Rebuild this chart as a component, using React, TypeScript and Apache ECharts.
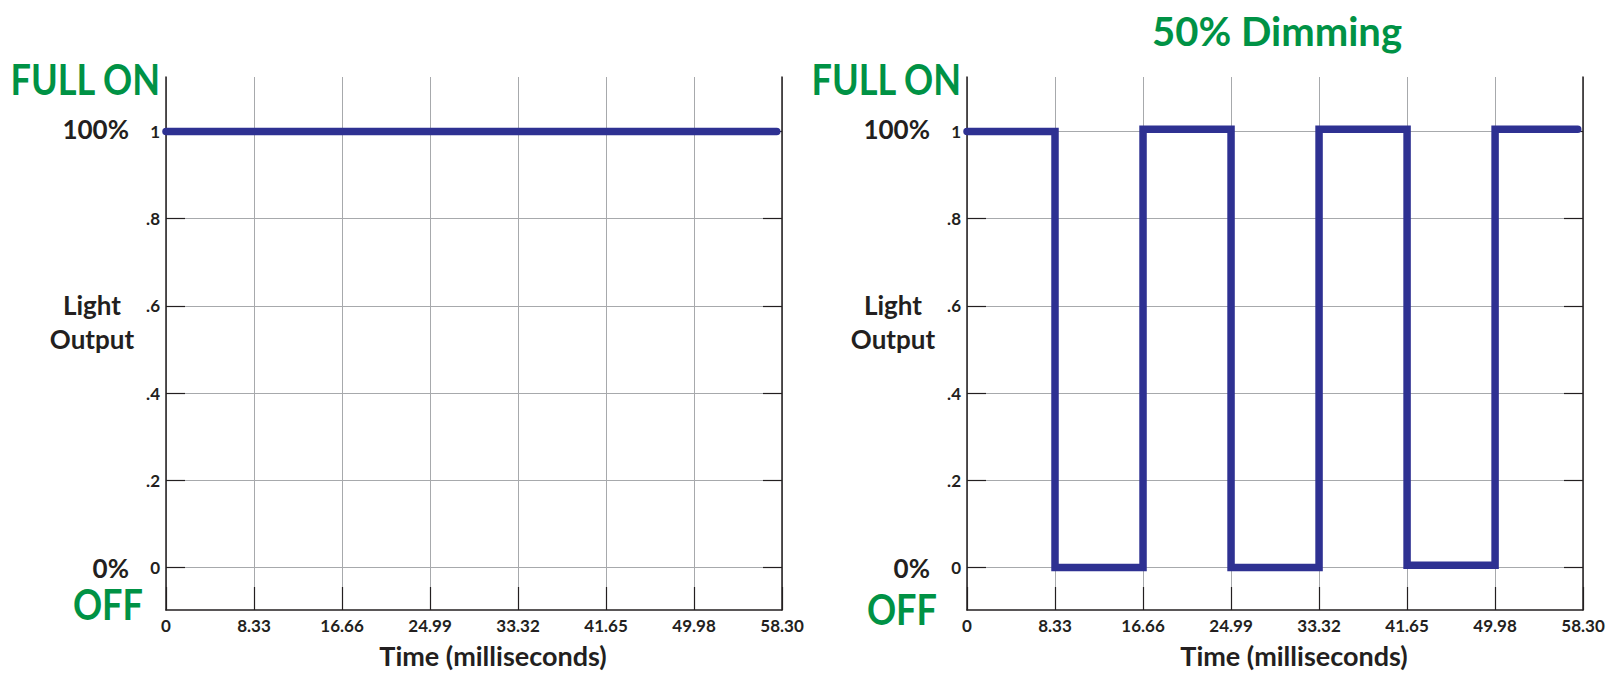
import React, { useEffect, useRef } from "react";
import * as echarts from "echarts";

// ---- data ----
const xTickValues = [0, 8.33, 16.66, 24.99, 33.32, 41.65, 49.98, 58.3];
const xTickLabels = ["0", "8.33", "16.66", "24.99", "33.32", "41.65", "49.98", "58.30"];
const yTickValues = [0, 0.2, 0.4, 0.6, 0.8, 1];
const yTickLabels = ["0", ".2", ".4", ".6", ".8", "1"];

const fullOnTime = [0, 57.8];
const fullOnLevel = [1, 1];

const dimTime = [0, 8.33, 8.33, 16.66, 16.66, 24.99, 24.99, 33.32, 33.32, 41.65, 41.65, 49.98, 49.98, 57.8];
const dimLevel = [1, 1, 0, 0, 1.005, 1.005, 0, 0, 1.005, 1.005, 0.005, 0.005, 1.005, 1.005];

const chartTitle = "50% Dimming";
const xAxisName = "Time (milliseconds)";
const yAxisName = "Light\nOutput";
const topLabel = "FULL ON";
const topPct = "100%";
const bottomLabel = "OFF";
const bottomPct = "0%";

// ---- styles ----
const GREEN = "#009245";
const DARK = "#231F20";
const GRIDGRAY = "#A7A9AC";
const LINEBLUE = "#2E3192";
const BLACK_FONT = 'Lato, "Open Sans", sans-serif';

const lookup = (vals: number[], labels: string[]) => (v: number) => {
  const i = vals.findIndex((t) => Math.abs(t - v) < 1e-6);
  return i >= 0 ? labels[i] : "";
};

const GRID_LEFTS = [166, 967];
const GRID_TOP = 77;
const GRID_W = 616;
const GRID_H = 533;

function makeXAxis(gridIndex: number) {
  return {
    type: "value",
    gridIndex,
    min: 0,
    max: 58.3,
    name: xAxisName,
    nameLocation: "middle",
    nameGap: 45,
    nameTextStyle: {
      color: DARK,
      fontFamily: BLACK_FONT,
      fontWeight: "bold",
      fontSize: 27,
      lineHeight: 28,
      verticalAlign: "middle",
      padding: [0, 0, 0, 38],
    },
    axisLine: { show: true, onZero: false, lineStyle: { color: DARK, width: 1.5 } },
    axisTick: { show: true, inside: true, length: 23, customValues: xTickValues, lineStyle: { color: DARK, width: 1.2 } },
    axisLabel: {
      show: true,
      customValues: xTickValues,
      formatter: lookup(xTickValues, xTickLabels),
      color: DARK,
      fontFamily: BLACK_FONT,
      fontWeight: "bold",
      fontSize: 17,
      margin: 7,
    },
    splitLine: { show: true, lineStyle: { color: GRIDGRAY, width: 1 } },
  };
}

function makeYAxis(gridIndex: number, position: "left" | "right") {
  const isLeft = position === "left";
  return {
    type: "value",
    gridIndex,
    position,
    min: -0.0975,
    max: 1.125,
    axisLine: { show: true, onZero: false, lineStyle: { color: DARK, width: 1.5 } },
    axisTick: { show: true, inside: true, length: 19, customValues: yTickValues, lineStyle: { color: DARK, width: 1.2 } },
    axisLabel: {
      show: isLeft,
      customValues: yTickValues,
      formatter: lookup(yTickValues, yTickLabels),
      color: DARK,
      fontFamily: BLACK_FONT,
      fontWeight: "bold",
      fontSize: 17,
      margin: 6,
    },
    splitLine: { show: isLeft, lineStyle: { color: GRIDGRAY, width: 1 } },
  };
}

const greenStyle = (text: string) => ({
  text,
  fill: GREEN,
  fontFamily: BLACK_FONT,
  fontWeight: "bold",
  fontSize: 42,
  lineHeight: 32,
  align: "right",
  verticalAlign: "middle",
});

const darkStyle = (text: string, align: string, lineHeight: number) => ({
  text,
  fill: DARK,
  fontFamily: BLACK_FONT,
  fontWeight: "bold",
  fontSize: 26,
  lineHeight,
  align,
  verticalAlign: "middle",
});

function sideTexts(gl: number, offFromRight: number, offY: number) {
  return [
    { type: "text", x: gl - 6, y: 78, scaleX: 0.86, style: greenStyle(topLabel) },
    { type: "text", x: gl - 37, y: 128.5, style: darkStyle(topPct, "right", 22) },
    { type: "text", x: gl - 74, y: 321.5, style: darkStyle(yAxisName, "center", 34) },
    { type: "text", x: gl - 37, y: 567.5, style: darkStyle(bottomPct, "right", 22) },
    { type: "text", x: gl - offFromRight, y: offY, scaleX: 0.86, style: greenStyle(bottomLabel) },
  ];
}

export default function App() {
  const ref = useRef<HTMLDivElement>(null);
  useEffect(() => {
    if (!ref.current) return;
    const chart = echarts.init(ref.current, undefined, { renderer: "svg" });
    const lineStyle = { color: LINEBLUE, width: 7.5, cap: "round", join: "miter" };
    chart.setOption({
      animation: false,
      backgroundColor: "#ffffff",
      grid: GRID_LEFTS.map((l) => ({ left: l, top: GRID_TOP, width: GRID_W, height: GRID_H, containLabel: false })),
      xAxis: [makeXAxis(0), makeXAxis(1)],
      yAxis: [makeYAxis(0, "left"), makeYAxis(0, "right"), makeYAxis(1, "left"), makeYAxis(1, "right")],
      series: [
        {
          type: "line",
          name: "Full on",
          xAxisIndex: 0,
          yAxisIndex: 0,
          data: fullOnTime.map((t, i) => [t, fullOnLevel[i]]),
          showSymbol: false,
          symbol: "none",
          lineStyle,
          z: 5,
        },
        {
          type: "line",
          name: "50% Dimming",
          xAxisIndex: 1,
          yAxisIndex: 2,
          data: dimTime.map((t, i) => [t, dimLevel[i]]),
          showSymbol: false,
          symbol: "none",
          lineStyle,
          z: 5,
        },
      ],
      graphic: [
        {
          type: "text",
          x: 1277,
          y: 30.5,
          style: { text: chartTitle, fill: GREEN, fontFamily: BLACK_FONT, fontWeight: "bold", fontSize: 40, lineHeight: 34, align: "center", verticalAlign: "middle" },
        },
        ...sideTexts(GRID_LEFTS[0], 23, 603),
        ...sideTexts(GRID_LEFTS[1], 30, 608),
      ],
    });
    return () => chart.dispose();
  }, []);
  return <div ref={ref} style={{ position: "fixed", left: 0, top: 0, width: 1616, height: 686 }} />;
}
